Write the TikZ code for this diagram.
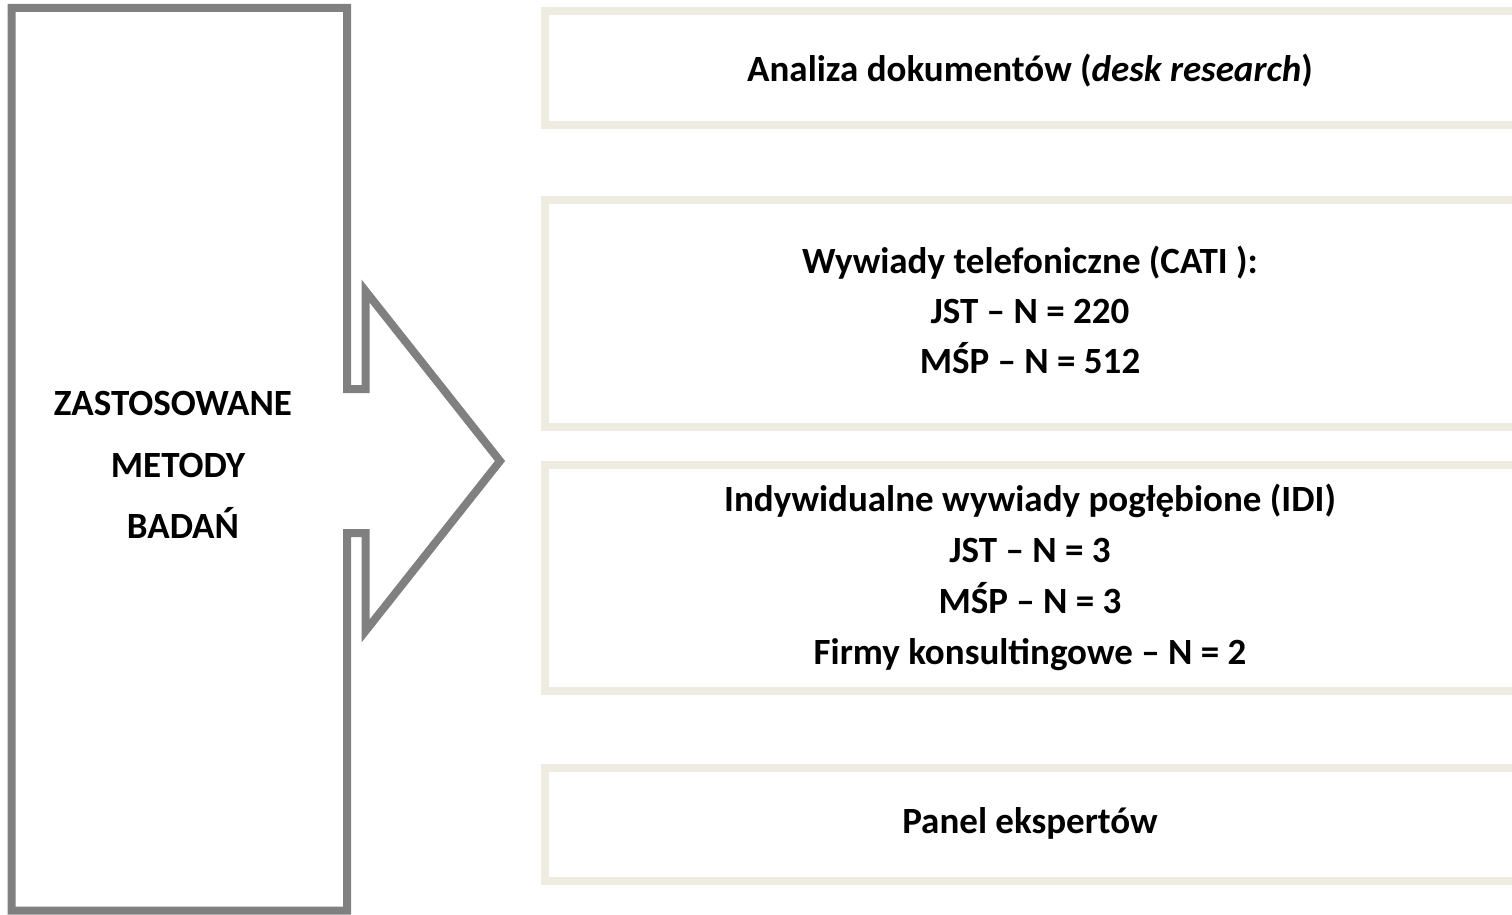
\documentclass[tikz,border=0pt]{standalone}
\usepackage{fontspec}
\setmainfont{Carlito}
\definecolor{arrowgray}{HTML}{808080}
\definecolor{beige}{HTML}{EEECE1}
\begin{document}
\begin{tikzpicture}[x=1pt,y=-1pt,
  methodbox/.style={draw=beige, line width=8pt, minimum width=978pt, inner sep=0pt, anchor=north west},
  txt/.style={anchor=base, inner sep=0pt, font=\fontsize{37}{44}\selectfont\bfseries},
  bigarrow/.style={draw=arrowgray, line width=8pt, line join=miter, miter limit=20}]
\useasboundingbox (0,0) rectangle (1512,915);
\clip (0,0) rectangle (1512,915);
% big arrow shape
\draw[bigarrow] (11.5,8) -- (347,8) -- (347,389) -- (365.5,389) -- (365.5,291)
  -- (500,461) -- (365.5,631) -- (365.5,533) -- (347,533) -- (347,910.5)
  -- (11.5,910.5) -- cycle;
\node[txt] (l1) at (173,415) {ZASTOSOWANE};
\node[txt] (l2) at (178,477) {METODY};
\node[txt] (l3) at (183,538) {BADAŃ};
% boxes
\node[methodbox, minimum height=113.5pt] (b1) at (541,7.5) {};
\node[methodbox, minimum height=227pt] (b2) at (541,196) {};
\node[methodbox, minimum height=226pt] (b3) at (541,461) {};
\node[methodbox, minimum height=113pt] (b4) at (541,763.5) {};
% texts
\node[txt] (t1) at (1030,82) {Analiza dokumentów (\textit{desk research})};
\node[txt] (t2a) at (1030,273) {Wywiady telefoniczne (CATI ):};
\node[txt] (t2b) at (1030,323) {JST – N = 220};
\node[txt] (t2c) at (1030,373) {MŚP – N = 512};
\node[txt] (t3a) at (1030,511) {Indywidualne wywiady pogłębione (IDI)};
\node[txt] (t3b) at (1030,562) {JST – N = 3};
\node[txt] (t3c) at (1030,613) {MŚP – N = 3};
\node[txt] (t3d) at (1030,664) {Firmy konsultingowe – N = 2};
\node[txt] (t4) at (1030,833) {Panel ekspertów};
\end{tikzpicture}
\end{document}
